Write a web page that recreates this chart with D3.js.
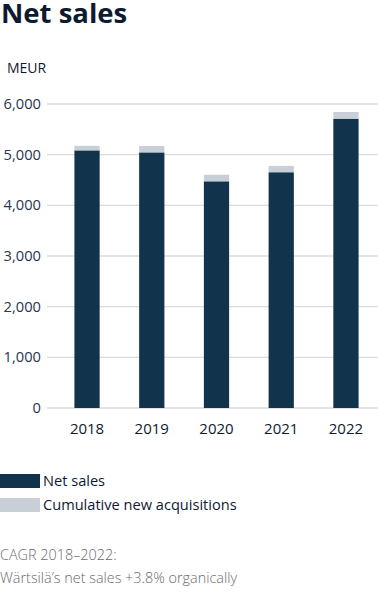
<!DOCTYPE html>
<html><head><meta charset="utf-8">
<script src="https://cdn.jsdelivr.net/npm/d3@7"></script>
<style>body{margin:0;background:#fff;}svg{display:block;font-family:"Open Sans",sans-serif;}</style>
</head><body>
<script>
const years = ["2018","2019","2020","2021","2022"];
const netSales = [5080, 5040, 4470, 4650, 5705];
const acquisitions = [94, 130, 134, 128, 137];
const yTicks = [0,1000,2000,3000,4000,5000,6000];

const W=378,H=605;
const svg=d3.select("body").append("svg").attr("width",W).attr("height",H);
const y=d3.scaleLinear().domain([0,6000]).range([408,104]);
const x=d3.scaleBand().domain(years).range([55,378]).paddingInner(0.61).paddingOuter(0.3);

svg.append("text").attr("x",1).attr("y",23).attr("font-size",27.5).attr("font-weight",700).attr("fill","#0e1a30").text("Net sales");
svg.append("text").attr("x",7).attr("y",73).attr("font-size",14).attr("fill","#0e1a30").text("MEUR");

const g=svg.append("g");
g.selectAll("line.grid").data(yTicks).join("line").attr("class","grid")
 .attr("x1",47).attr("x2",378).attr("y1",d=>y(d)).attr("y2",d=>y(d))
 .attr("stroke","#dcdcdc").attr("stroke-width",1.3);
g.selectAll("text.yt").data(yTicks).join("text").attr("class","yt")
 .attr("x",41).attr("y",d=>y(d)+5).attr("text-anchor","end").attr("font-size",14.7).attr("fill","#2a3550")
 .text(d=>d3.format(",")(d));

const data=years.map((yr,i)=>({yr,n:netSales[i],a:acquisitions[i]}));
g.selectAll("rect.a").data(data).join("rect").attr("class","a")
 .attr("x",d=>x(d.yr)).attr("width",x.bandwidth())
 .attr("y",d=>y(d.n+d.a)).attr("height",d=>y(d.n)-y(d.n+d.a)).attr("fill","#c8cfd6");
g.selectAll("rect.n").data(data).join("rect").attr("class","n")
 .attr("x",d=>x(d.yr)).attr("width",x.bandwidth())
 .attr("y",d=>y(d.n)).attr("height",d=>y(0)-y(d.n)).attr("fill","#12334c");
g.selectAll("text.xt").data(years).join("text").attr("class","xt")
 .attr("x",d=>x(d)+x.bandwidth()/2).attr("y",434).attr("text-anchor","middle").attr("font-size",15).attr("fill","#0e1a30").text(d=>d);

const leg=[{c:"#12334c",t:"Net sales",y:474},{c:"#c8cfd6",t:"Cumulative new acquisitions",y:498}];
leg.forEach(l=>{
  svg.append("rect").attr("x",0).attr("y",l.y).attr("width",40).attr("height",14).attr("fill",l.c);
  svg.append("text").attr("x",43).attr("y",l.y+12).attr("font-size",14.6).attr("fill","#0e1a30").text(l.t);
});
svg.append("text").attr("x",0).attr("y",560).attr("font-size",14.4).attr("font-weight",300).attr("fill","#6b6b6b").text("CAGR 2018–2022:");
svg.append("text").attr("x",0).attr("y",583).attr("font-size",14.4).attr("font-weight",300).attr("fill","#6b6b6b").text("Wärtsilä’s net sales +3.8% organically");
</script>
</body></html>
